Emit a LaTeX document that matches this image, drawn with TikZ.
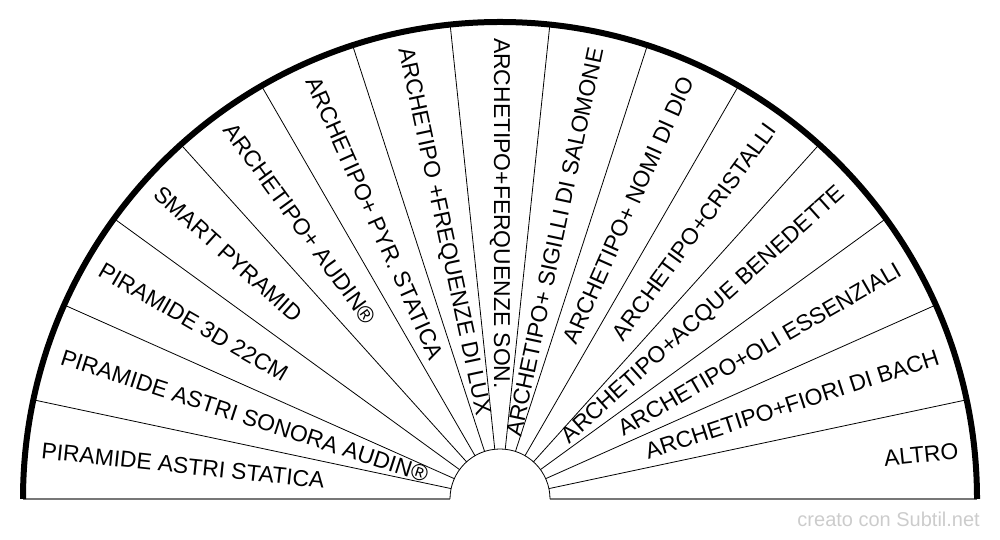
\documentclass[tikz,border=0pt]{standalone}
\usepackage{fontspec}
\setmainfont{Liberation Sans}
\usetikzlibrary{calc}
\definecolor{wmgray}{HTML}{CCCCCC}
\definecolor{basegray}{HTML}{777777}
\begin{document}
\begin{tikzpicture}[x=1pt,y=1pt,
  spoke/.style={line width=0.8pt, black},
  rim/.style={line width=6pt, black},
  baseline/.style={line width=1.5pt, basegray},
  lab/.style={font=\fontsize{22.9}{27}\selectfont, inner sep=0pt}]
\useasboundingbox (0,0) rectangle (1000,540);
\coordinate (c) at (500,41);
\coordinate (bl) at (23,41);
\coordinate (il) at (450,41);
\coordinate (ir) at (550,41);
\coordinate (br) at (977,41);
\draw[baseline] (bl) -- (il);
\draw[baseline] (ir) -- (br);
\draw[spoke] (ir) arc (0:180:50);
\foreach \k in {1,...,14}
  \draw[spoke] ($(c)+(\k*12:50)$) -- ($(c)+(\k*12:477)$);
\draw[rim] (br) arc (0:180:477);
\foreach \a/\t [count=\i] in {174/PIRAMIDE ASTRI STATICA,
  162/PIRAMIDE ASTRI SONORA AUDIN®,
  150/PIRAMIDE 3D 22CM,
  138/SMART PYRAMID,
  126/ARCHETIPO+ AUDIN®,
  114/ARCHETIPO+ PYR. STATICA,
  102/ARCHETIPO +FREQUENZE DI LUX,
  90/ARCHETIPO+FERQUENZE SON.}
  \node[lab, anchor=west, rotate=\a-180] (L\i) at ($(c)+(\a:461)$) {\t};
\foreach \a/\t [count=\i] in {78/ARCHETIPO+ SIGILLI DI SALOMONE,
  66/ARCHETIPO+ NOMI DI DIO,
  54/ARCHETIPO+CRISTALLI,
  42/ARCHETIPO+ACQUE BENEDETTE,
  30/ARCHETIPO+OLI ESSENZIALI,
  18/ARCHETIPO+FIORI DI BACH,
  6/ALTRO}
  \node[lab, anchor=east, rotate=\a] (R\i) at ($(c)+(\a:461)$) {\t};
\node[font=\fontsize{20}{24}\selectfont, text=wmgray, anchor=base east, inner sep=0pt] (wm) at (980,13) {creato con Subtil.net};
\end{tikzpicture}
\end{document}
